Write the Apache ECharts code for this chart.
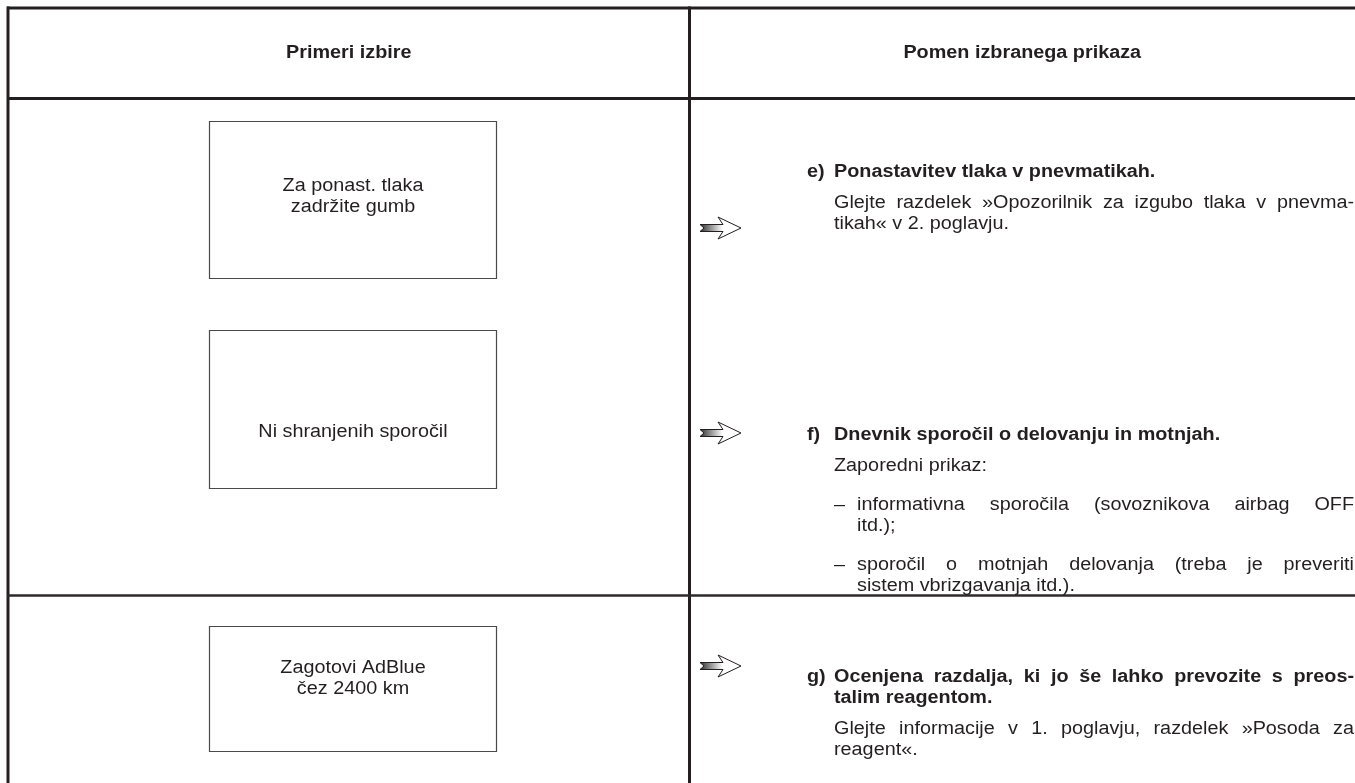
<!DOCTYPE html>
<html><head><meta charset="utf-8">
<script src="https://cdn.jsdelivr.net/npm/echarts@6/dist/echarts.min.js"></script>
<style>html,body{margin:0;padding:0;background:#fff}#main{width:1355px;height:783px}</style>
</head><body><div id="main"></div>
<script>
// ---- content ----
const headers = ['Primeri izbire', 'Pomen izbranega prikaza'];
const displayMessages = [
  ['Za ponast. tlaka', 'zadržite gumb'],
  ['Ni shranjenih sporočil'],
  ['Zagotovi AdBlue', 'čez 2400 km']
];
const itemLabels = ['e)', 'f)', 'g)'];
const itemTitles = [
  ['Ponastavitev tlaka v pnevmatikah.'],
  ['Dnevnik sporočil o delovanju in motnjah.'],
  ['Ocenjena razdalja, ki jo še lahko prevozite s preos-', 'talim reagentom.']
];
const itemParagraphs = [
  [{ bullet: false, lines: ['Glejte razdelek »Opozorilnik za izgubo tlaka v pnevma-', 'tikah« v 2. poglavju.'] }],
  [{ bullet: false, lines: ['Zaporedni prikaz:'] },
   { bullet: true, lines: ['informativna sporočila (sovoznikova airbag OFF', 'itd.);'] },
   { bullet: true, lines: ['sporočil o motnjah delovanja (treba je preveriti', 'sistem vbrizgavanja itd.).'] }],
  [{ bullet: false, lines: ['Glejte informacije v 1. poglavju, razdelek »Posoda za', 'reagent«.'] }]
];

// ---- layout ----
const INK = '#231f20';
const FONT = '"Liberation Sans", Arial, sans-serif';
const FS = 18, BFS = 18, HFS = 18, BOXFS = 18;
const SX = 1.1; // horizontal stretch of the source type
const L = { left: 8, top: 8, headBottom: 98.5, mid: 689.5, rowSep: 595.5, right: 1355, bottom: 783 };
const boxes = [[209.5, 121.5, 287, 157], [209.5, 330.5, 287, 158], [209.5, 626.5, 287, 125]];
const boxTextY = [196.5, 432, 678.5];
const titleY = [172, 435, 677];
const arrowY = [228, 433, 666];
const textX = 834, labelX = 807, bulletTextX = 857, rightEdge = 1354;
const LH = 21;

const ctx = document.createElement('canvas').getContext('2d');
function measure(t, bold, fs) { ctx.font = (bold ? 'bold ' : '') + fs + 'px ' + FONT; return ctx.measureText(t).width * SX; }

const g = [];
function line(x1, y1, x2, y2, w, c) { g.push({ type: 'line', shape: { x1, y1, x2, y2 }, style: { stroke: c || INK, lineWidth: w } }); }
function text(t, x, y, opt) {
  opt = opt || {};
  g.push({ type: 'text', x: x, y: y, scaleX: SX, scaleY: 1, style: {
    text: t, x: 0, y: 0, fill: INK, fontSize: opt.fs || FS, fontFamily: FONT, fontWeight: opt.bold ? 'bold' : 'normal',
    align: opt.align || 'left', verticalAlign: 'middle', textAlign: opt.align || 'left', textVerticalAlign: 'middle' } });
}
function justified(t, x, y, bold, fs) {
  const words = t.split(' ');
  const widths = words.map(w => measure(w, bold, fs));
  const total = widths.reduce((a, b) => a + b, 0);
  const gap = words.length > 1 ? (rightEdge - x - total) / (words.length - 1) : 0;
  let cx = x;
  words.forEach((w, i) => { text(w, cx, y, { bold, fs }); cx += widths[i] + gap; });
}
function arrow(yc) {
  const x0 = 700;
  g.push({ type: 'polygon', shape: { points: [
      [x0, yc - 3.5], [x0 + 23, yc - 3.5], [x0 + 18, yc - 11], [x0 + 41, yc], [x0 + 18, yc + 11], [x0 + 23, yc + 3.5], [x0, yc + 3.5], [x0 + 4, yc]] },
    style: { stroke: INK, lineWidth: 1, fill: { type: 'linear', x: 0, y: 0, x2: 1, y2: 0,
      colorStops: [{ offset: 0, color: '#2a2a2a' }, { offset: 0.55, color: '#ffffff' }, { offset: 1, color: '#ffffff' }] } } });
}

// grid lines
line(L.left - 1, L.top, L.right, L.top, 3);
line(L.left, L.top - 1.5, L.left, L.bottom, 3);
line(L.left - 1, L.headBottom, L.right, L.headBottom, 3);
line(L.mid, L.top - 1.5, L.mid, L.bottom, 3);
line(L.left - 1, L.rowSep, L.right, L.rowSep, 2.5, '#2e2a2b');

// headers
text(headers[0], (L.left + L.mid) / 2, 53, { bold: true, fs: HFS, align: 'center' });
text(headers[1], (L.mid + L.right) / 2, 53, { bold: true, fs: HFS, align: 'center' });

// display boxes
boxes.forEach((b, i) => {
  g.push({ type: 'rect', shape: { x: b[0], y: b[1], width: b[2], height: b[3] }, style: { fill: 'none', stroke: '#4a4a4a', lineWidth: 1.2 } });
  const lines = displayMessages[i];
  const y0 = boxTextY[i] - (lines.length - 1) * LH / 2;
  lines.forEach((t, k) => text(t, b[0] + b[2] / 2, y0 + k * LH, { align: 'center', fs: BOXFS }));
});

// items
const paraGap = [20, 18, 20];
itemLabels.forEach((lab, i) => {
  arrow(arrowY[i]);
  let y = titleY[i];
  text(lab, labelX, y, { bold: true, fs: BFS });
  itemTitles[i].forEach((t, k, arr) => {
    if (k < arr.length - 1) justified(t, textX, y, true, BFS); else text(t, textX, y, { bold: true, fs: BFS });
    y += LH;
  });
  y += 10;
  itemParagraphs[i].forEach((p, pi) => {
    if (pi > 0) y += paraGap[i];
    const x = p.bullet ? bulletTextX : textX;
    if (p.bullet) text('–', textX, y);
    p.lines.forEach((t, k, arr) => {
      if (k < arr.length - 1) justified(t, x, y, false, FS); else text(t, x, y);
      y += LH;
    });
  });
});

const chart = echarts.init(document.getElementById('main'), null, { renderer: 'canvas' });
chart.setOption({ backgroundColor: '#ffffff', animation: false, graphic: { elements: g } });
</script></body></html>
